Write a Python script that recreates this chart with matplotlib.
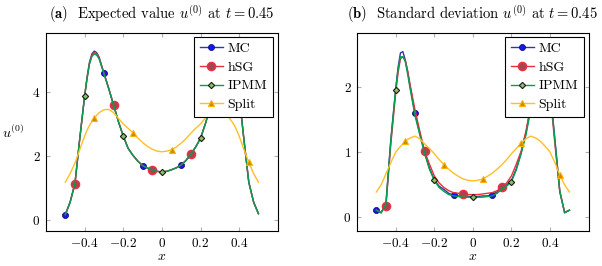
import numpy as np
import matplotlib
matplotlib.use("Agg")
import matplotlib.pyplot as plt

plt.rcParams['font.family'] = 'serif'
plt.rcParams['font.serif'] = ['cmr10']
plt.rcParams['mathtext.fontset'] = 'cm'
plt.rcParams['axes.formatter.use_mathtext'] = True

# x grid (a few extra points around the peaks)
x = np.array([-0.5, -0.475, -0.45, -0.425, -0.4,
              -0.3875, -0.375, -0.3625, -0.35, -0.3375, -0.325,
              -0.3, -0.275, -0.25, -0.225, -0.2, -0.175, -0.15, -0.125, -0.1, -0.075, -0.05, -0.025,
              0.0, 0.025, 0.05, 0.075, 0.1, 0.125, 0.15, 0.175, 0.2, 0.225, 0.25, 0.275, 0.3,
              0.325, 0.3375, 0.35, 0.3625, 0.375, 0.3875,
              0.4, 0.425, 0.45, 0.475, 0.5])

# (a) expected value
mean_mc = [0.17, 0.56, 1.14, 2.55, 3.87,
           4.45, 4.92, 5.18, 5.27, 5.22, 5.08,
           4.58, 4.10, 3.59, 3.07, 2.62, 2.24, 2.02, 1.84, 1.70, 1.62, 1.57, 1.52,
           1.50, 1.52, 1.57, 1.63, 1.72, 1.86, 2.05, 2.28, 2.55, 3.00, 3.50, 4.05, 4.55,
           5.05, 5.20, 5.26, 5.18, 4.95, 4.50,
           3.90, 2.50, 1.18, 0.56, 0.20]
mean_hsg = [0.17, 0.56, 1.14, 2.55, 3.86,
            4.42, 4.88, 5.13, 5.22, 5.18, 5.05,
            4.58, 4.10, 3.59, 3.07, 2.62, 2.24, 2.02, 1.84, 1.70, 1.62, 1.57, 1.52,
            1.50, 1.52, 1.57, 1.63, 1.72, 1.86, 2.05, 2.28, 2.55, 3.00, 3.50, 4.05, 4.55,
            5.02, 5.16, 5.21, 5.12, 4.92, 4.45,
            3.88, 2.50, 1.18, 0.56, 0.20]
mean_ipmm = [0.17, 0.56, 1.14, 2.55, 3.87,
             4.40, 4.86, 5.10, 5.18, 5.14, 5.03,
             4.56, 4.09, 3.58, 3.07, 2.62, 2.24, 2.02, 1.84, 1.70, 1.62, 1.57, 1.52,
             1.50, 1.52, 1.57, 1.63, 1.72, 1.86, 2.05, 2.28, 2.55, 3.00, 3.50, 4.05, 4.54,
             5.00, 5.12, 5.17, 5.09, 4.90, 4.42,
             3.87, 2.50, 1.18, 0.56, 0.20]
mean_split = [1.18, 1.45, 1.78, 2.20, 2.62,
              2.80, 2.95, 3.07, 3.17, 3.27, 3.35,
              3.44, 3.45, 3.35, 3.17, 3.00, 2.86, 2.73, 2.56, 2.42, 2.30, 2.21, 2.15,
              2.13, 2.15, 2.19, 2.28, 2.40, 2.54, 2.71, 2.86, 3.00, 3.18, 3.35, 3.45, 3.45,
              3.36, 3.27, 3.18, 3.07, 2.96, 2.80,
              2.62, 2.20, 1.80, 1.45, 1.18]

# (b) standard deviation
std_mc = [0.11, 0.07, 0.22, 1.19, 1.96,
          2.30, 2.53, 2.55, 2.42, 2.24, 2.02,
          1.60, 1.30, 1.01, 0.76, 0.58, 0.48, 0.43, 0.37, 0.34, 0.33, 0.32, 0.32,
          0.32, 0.32, 0.33, 0.33, 0.35, 0.39, 0.45, 0.50, 0.57, 0.75, 1.00, 1.30, 1.72,
          2.05, 2.26, 2.44, 2.56, 2.53, 2.30,
          1.96, 1.19, 0.40, 0.07, 0.11]
std_hsg = [0.11, 0.08, 0.18, 1.12, 1.90,
           2.22, 2.44, 2.47, 2.42, 2.25, 2.04,
           1.66, 1.33, 1.02, 0.82, 0.64, 0.53, 0.46, 0.41, 0.38, 0.37, 0.36, 0.35,
           0.35, 0.35, 0.36, 0.37, 0.38, 0.41, 0.46, 0.53, 0.64, 0.82, 1.02, 1.33, 1.72,
           2.06, 2.25, 2.42, 2.47, 2.44, 2.22,
           1.90, 1.12, 0.40, 0.08, 0.11]
std_ipmm = [0.11, 0.07, 0.20, 1.17, 1.96,
            2.27, 2.47, 2.47, 2.40, 2.20, 1.98,
            1.57, 1.27, 0.98, 0.74, 0.57, 0.46, 0.40, 0.35, 0.33, 0.32, 0.31, 0.31,
            0.31, 0.31, 0.31, 0.32, 0.33, 0.37, 0.43, 0.48, 0.55, 0.73, 0.98, 1.27, 1.66,
            1.98, 2.20, 2.40, 2.47, 2.47, 2.27,
            1.96, 1.17, 0.40, 0.07, 0.11]
std_split = [0.39, 0.50, 0.67, 0.84, 1.00,
             1.05, 1.09, 1.13, 1.17, 1.20, 1.22,
             1.25, 1.21, 1.13, 1.06, 0.98, 0.89, 0.81, 0.74, 0.68, 0.63, 0.59, 0.57,
             0.56, 0.57, 0.59, 0.63, 0.68, 0.74, 0.81, 0.89, 0.98, 1.06, 1.14, 1.21, 1.25,
             1.22, 1.20, 1.17, 1.13, 1.09, 1.05,
             1.00, 0.84, 0.65, 0.50, 0.39]

# marker positions of each method
mark_mc = [-0.5, -0.3, -0.1, 0.1, 0.3]
mark_hsg = [-0.45, -0.25, -0.05, 0.15, 0.35]
mark_ipmm = [-0.4, -0.2, 0.0, 0.2, 0.4]
mark_split = [-0.35, -0.15, 0.05, 0.25, 0.45]

labels = ["MC", "hSG", "IPMM", "Split"]
xticks = [-0.4, -0.2, 0, 0.2, 0.4]
xticklabels = ["$-0.4$", "$-0.2$", "$0$", "$0.2$", "$0.4$"]
yticks_a = [0, 2, 4]
yticks_b = [0, 1, 2]

styles = [
    dict(color='#3535a5', marker='o', ms=4.3, mfc='#1515f0', mec='#101080', mew=0.6),
    dict(color='#e8303c', marker='o', ms=5.8, mfc='#a84450', mec='#ec3040', mew=1.1),
    dict(color='#00a050', marker='D', ms=3.2, mfc='#8cc060', mec='#1a1a1a', mew=0.8),
    dict(color='#ffbf25', marker='^', ms=3.8, mfc='#c88a00', mec='#ffb000', mew=0.8),
]


def marks_of(pts):
    return [int(np.argmin(np.abs(x - p))) for p in pts]


def panel(ax, series, yticks, yticklabels, title):
    for ys, lab, st, mk in zip(series, labels, styles, [mark_mc, mark_hsg, mark_ipmm, mark_split]):
        ax.plot(x, ys, lw=1.0, label=lab, markevery=marks_of(mk), **st)
    ax.set_xlim(-0.6, 0.6)
    ax.set_xticks(xticks)
    ax.set_xticklabels(xticklabels)
    ax.set_yticks(yticks)
    ax.set_yticklabels(yticklabels)
    ax.tick_params(direction='in', length=3, color='#b0b0b0', top=True, right=True, labelsize=9.5, pad=4)
    for s in ax.spines.values():
        s.set_linewidth(0.8)
    ax.set_xlabel("$x$", fontsize=10, labelpad=1)
    ax.set_title(title, fontsize=10.5, pad=10)
    leg = ax.legend(loc='upper right', bbox_to_anchor=(0.978, 0.98), borderaxespad=0, fontsize=10,
                    fancybox=False, framealpha=1, edgecolor='black', handlelength=1.65, handletextpad=0.35,
                    labelspacing=0.42, borderpad=0.4)
    leg.get_frame().set_linewidth(0.8)


fig = plt.figure(figsize=(6.02, 2.66), dpi=100)
ax1 = fig.add_axes([0.0764, 0.1316, 0.385, 0.744])
ax2 = fig.add_axes([0.593, 0.1316, 0.385, 0.744])

panel(ax1, [mean_mc, mean_hsg, mean_ipmm, mean_split], yticks_a, ["$0$", "$2$", "$4$"],
      r"$\mathbf{(a)}$  Expected value $u^{(0)}$ at $t = 0.45$")
ax1.set_ylim(-0.34, 5.83)
ax1.set_ylabel("$u^{(0)}$", rotation=0, fontsize=10, ha='center', va='center')
ax1.yaxis.set_label_coords(-0.14, 0.5)

panel(ax2, [std_mc, std_hsg, std_ipmm, std_split], yticks_b, ["$0$", "$1$", "$2$"],
      r"$\mathbf{(b)}$  Standard deviation $u^{(0)}$ at $t = 0.45$")
ax2.set_ylim(-0.21, 2.835)

plt.savefig('out.png', dpi=100)
